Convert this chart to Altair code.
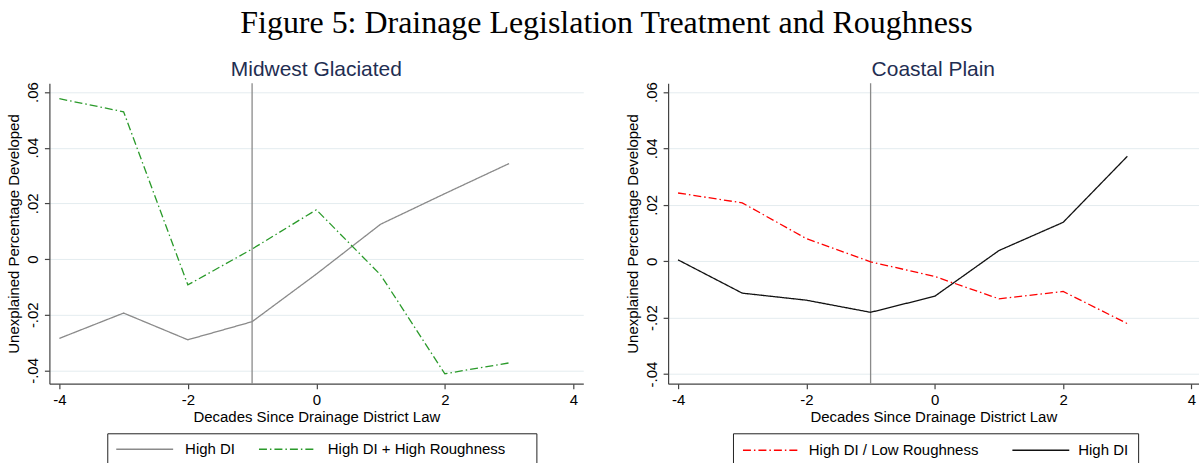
import altair as alt
import pandas as pd

# ---------------- data ----------------
decades = [-4, -3, -2, -1, 0, 1, 2, 3]

# Midwest Glaciated
mw_names = ["High DI", "High DI + High Roughness"]
mw_high_di = [-0.0285, -0.0194, -0.0290, -0.0225, -0.0054, 0.0125, 0.0235, 0.0343]
mw_high_rough = [0.0576, 0.0529, -0.0093, 0.0036, 0.0177, -0.0057, -0.0412, -0.0373]

# Coastal Plain
cp_names = ["High DI / Low Roughness", "High DI"]
cp_low_rough = [0.0242, 0.0207, 0.0080, -0.0002, -0.0054, -0.0133, -0.0107, -0.0221]
cp_high_di = [0.0005, -0.0113, -0.0138, -0.0181, -0.0124, 0.0038, 0.0138, 0.0372]

x_ticks = [-4, -2, 0, 2, 4]
y_ticks = [-0.04, -0.02, 0, 0.02, 0.04, 0.06]
law_decade = -1

FONT = "Liberation Sans"
FS = 15
SOLID = [1, 0]
DASHDOT = [8, 3, 1.5, 3]


def make_df(names, series):
    rows = []
    for name, vals in zip(names, series):
        for d, v in zip(decades, vals):
            rows.append({"decade": d, "value": v, "series": name})
    return pd.DataFrame(rows)


def panel(title, names, series, colors, dashes, ydom, xdom, width, height,
          legend_x, legend_y, legend_pad, col_pad, label_off, extra_right):
    df = make_df(names, series)
    legend = alt.Legend(
        title="\u00a0", titleOrient="right", titlePadding=extra_right,
        titleFont=FONT, titleFontSize=FS, titleFontWeight="normal",
        orient="none", legendX=legend_x, legendY=legend_y,
        direction="horizontal", columns=2, symbolType="stroke",
        symbolSize=3249, symbolStrokeWidth=1.3, clipHeight=16,
        labelFont=FONT, labelFontSize=FS, labelColor="black", labelLimit=400,
        labelOffset=label_off, columnPadding=col_pad, padding=legend_pad,
        strokeColor="#222222", fillColor="white", cornerRadius=0,
    )
    xaxis = alt.Axis(
        title="Decades Since Drainage District Law", values=x_ticks,
        labelExpr="datum.value < 0 ? '-' + abs(datum.value) : '' + datum.value",
        grid=False, domainColor="#444444", domainWidth=1.2,
        tickColor="#444444", tickSize=5, tickWidth=1.2,
        labelFont=FONT, labelFontSize=FS, labelColor="black",
        labelPadding=4, labelFlush=False,
        titleFont=FONT, titleFontSize=FS, titleFontWeight="normal",
        titleColor="black", titlePadding=2,
    )
    yaxis = alt.Axis(
        title="Unexplained Percentage Developed", values=y_ticks,
        labelExpr="datum.value == 0 ? '0' : (datum.value < 0 ? '-' : '') + "
                  "replace(format(abs(datum.value), '.2f'), '0.', '.')",
        grid=True, gridColor="#e4ecef", gridWidth=1,
        domainColor="#444444", domainWidth=1.2,
        tickColor="#444444", tickSize=5, tickWidth=1.2,
        labelFont=FONT, labelFontSize=FS, labelColor="black",
        labelAngle=270, labelAlign="center", labelBaseline="alphabetic",
        labelPadding=7, labelFlush=False,
        titleFont=FONT, titleFontSize=FS, titleFontWeight="normal",
        titleColor="black", titleAngle=270, titleAlign="center",
        titleBaseline="alphabetic", titleX=-31, titleY=height / 2,
    )
    base = alt.Chart(df)
    lines = base.mark_line(strokeWidth=1.3).encode(
        x=alt.X("decade:Q", scale=alt.Scale(domain=xdom, nice=False, zero=False), axis=xaxis),
        y=alt.Y("value:Q", scale=alt.Scale(domain=ydom, nice=False, zero=False), axis=yaxis),
        color=alt.Color("series:N", scale=alt.Scale(domain=names, range=colors), legend=legend),
        strokeDash=alt.StrokeDash("series:N", scale=alt.Scale(domain=names, range=dashes), legend=legend),
        order="decade:Q",
    )
    vline = alt.Chart(pd.DataFrame({"decade": [law_decade]})).mark_rule(
        color="#8a8a8a", strokeWidth=1.3
    ).encode(x="decade:Q")
    return alt.layer(vline, lines).properties(
        width=width, height=height,
        title=alt.TitleParams(
            title, font=FONT, fontSize=21, fontWeight="normal", color="#1f2e52",
            anchor="middle", baseline="alphabetic", offset=-15,
        ),
    )


H = 301
left = panel(
    "Midwest Glaciated", mw_names, [mw_high_di, mw_high_rough],
    ["#8a8a8a", "#2a9a2a"], [SOLID, DASHDOT],
    [-0.04477, 0.06312], [-4.155, 4.155], 535, H,
    58, 350.7, 8, 22, 11, 23,
)
right = panel(
    "Coastal Plain", cp_names, [cp_low_rough, cp_high_di],
    ["#ff0000", "#111111"], [DASHDOT, SOLID],
    [-0.0434, 0.06308], [-4.155, 4.109], 531.5, H,
    65, 350.7, 9, 32, 8, 0,
)

chart = alt.hconcat(left, right, spacing=41).resolve_scale(
    x="independent", y="independent", color="independent", strokeDash="independent"
).resolve_legend(color="independent", strokeDash="independent").properties(
    title=alt.TitleParams(
        "Figure 5: Drainage Legislation Treatment and Roughness",
        font="Liberation Serif", fontSize=32, fontWeight="normal", color="black",
        anchor="middle", dx=4, offset=19,
    ),
    padding={"left": 5.5, "top": 6, "right": 0, "bottom": 0},
    background="white",
).configure_view(stroke=None)

chart.save("out.html", embed_options={"renderer": "svg", "actions": False})
